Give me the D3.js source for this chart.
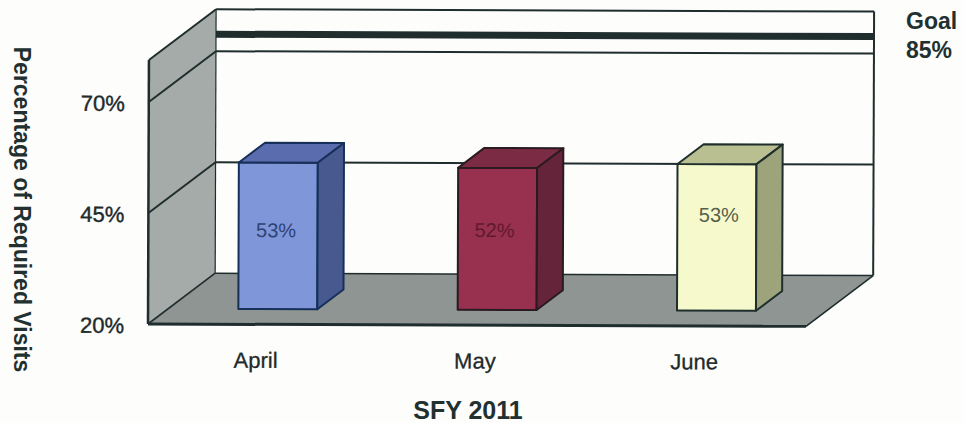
<!DOCTYPE html>
<html><head><meta charset="utf-8">
<script src="https://cdn.jsdelivr.net/npm/d3@7"></script>
<style>html,body{margin:0;padding:0;background:#fdfdfc}svg{display:block}text{font-family:"Liberation Sans",Arial,sans-serif}</style>
</head><body><svg id="c" width="964" height="423"></svg>
<script>
const categories = ["April","May","June"];
const values = [53,52,53];
const barLabels = ["53%","52%","53%"];
const yTicks = [20,45,70];
const goalValue = 85;
const wallTop = 100;
const frontColors = ["#7f96d8","#98304f","#f6f9cb"];
const topColors = ["#5a6bae","#7b2b43","#b9bf90"];
const sideColors = ["#47598f","#66243a","#9da37b"];
const strokeColors = ["#16305a","#2a1a22","#1f2d2d"];
const labelColors = ["#2f4274","#5e1a30","#56604a"];
const ink = "#1f2d2d";

const svg = d3.select("#c");
const g = svg.append("g").attr("transform","rotate(0.2 148 324)");
const x = d3.scaleBand().domain(categories).range([148,806]).paddingInner(0.64).paddingOuter(0.32);
const y = d3.scaleLinear().domain([20,70,85,wallTop]).range([324,102,85,60]);
const dx = 67, dy = 51;
const P = (px,v,t)=>[px+dx*t, y(v)-dy*t];
const line = d3.line();
const poly = (pts,fill,stroke,w)=>g.append("path").attr("d",line(pts)+"Z").attr("fill",fill)
  .attr("stroke",stroke||"none").attr("stroke-width",w||0).attr("stroke-linejoin","round");
const x0=148,x1=806;

// walls and floor
poly([P(x0,20,0),P(x0,wallTop,0),P(x0,wallTop,1),P(x0,20,1)],"#a4aba9");
poly([P(x0,20,1),P(x1,20,1),P(x1,20,0),P(x0,20,0)],"#8e9593");
const seg=(a,b,w)=>g.append("path").attr("d",line([a,b])).attr("fill","none").attr("stroke",ink).attr("stroke-width",w);
[45,70].forEach(v=>{seg(P(x0,v,0),P(x0,v,1),2);seg(P(x0,v,1),P(x1,v,1),2);});
seg(P(x0,goalValue,1),P(x1,goalValue,1),7);
seg(P(x0,wallTop,0),P(x0,wallTop,1),2);
seg(P(x0,wallTop,1),P(x1,wallTop,1),2);
seg(P(x0,20,0),P(x0,wallTop,0),2.5);
seg(P(x0,20,1),P(x0,wallTop,1),1.2);
seg(P(x1,20,1),P(x1,wallTop,1),2);
seg(P(x0,20,0),P(x0,20,1),1.6);
seg(P(x0,20,1),P(x1,20,1),1.5);
seg(P(x1,20,0),P(x1,20,1),1.6);
seg(P(x0,20,0),P(x1,20,0),3);

// bars
const t0=0.3,t1=0.69;
const labelShiftY=[-4,-7,-21], labelShiftX=[-2,-3,2];
categories.forEach((c,i)=>{
  const l=x(c),r=l+x.bandwidth(),v=values[i],B=20,s=strokeColors[i];
  poly([P(l,B,t0),P(r,B,t0),P(r,v,t0),P(l,v,t0)],frontColors[i],s,2);
  poly([P(l,v,t0),P(r,v,t0),P(r,v,t1),P(l,v,t1)],topColors[i],s,2);
  poly([P(r,B,t0),P(r,B,t1),P(r,v,t1),P(r,v,t0)],sideColors[i],s,2);
  const c0=P(l+x.bandwidth()/2,(B+v)/2,t0);
  g.append("text").attr("x",c0[0]+labelShiftX[i]).attr("y",c0[1]+labelShiftY[i])
    .attr("text-anchor","middle").attr("dominant-baseline","middle")
    .attr("font-size",20).attr("fill",labelColors[i]).text(barLabels[i]);
});

// axes
const yAxis=g.append("g").attr("transform","translate(124,1.5)")
  .call(d3.axisLeft(y).tickValues(yTicks).tickSize(0).tickPadding(0).tickFormat(d=>d+"%"));
yAxis.select(".domain").remove();
yAxis.selectAll("text").attr("font-size",22).attr("fill","#1f2a2a").attr("font-family",null).attr("stroke","#1f2a2a").attr("stroke-width",0.4);
const xAxis=g.append("g").attr("transform","translate(-2,352)")
  .call(d3.axisBottom(x).tickSize(0).tickPadding(0));
xAxis.select(".domain").remove();
xAxis.selectAll("text").attr("font-size",22).attr("fill","#1f2a2a").attr("font-family",null).attr("dy","0.7em").attr("stroke","#1f2a2a").attr("stroke-width",0.3);

// titles
const bold=(sel)=>sel.attr("font-weight","bold").attr("fill","#22302f");
bold(svg.append("text").attr("x",468).attr("y",419).attr("text-anchor","middle").attr("font-size",25)).text("SFY 2011");
bold(svg.append("text").attr("transform","translate(14,209.5) rotate(90)").attr("text-anchor","middle").attr("font-size",23)).text("Percentage of Required Visits");
bold(svg.append("text").attr("x",906).attr("y",29).attr("font-size",23)).text("Goal");
bold(svg.append("text").attr("x",906).attr("y",58).attr("font-size",23)).text("85%");
</script></body></html>
